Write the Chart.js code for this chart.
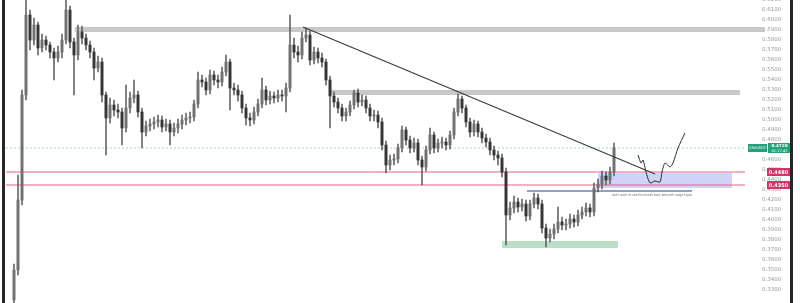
<!DOCTYPE html>
<html>
<head>
<meta charset="utf-8">
<script src="https://cdn.jsdelivr.net/npm/chart.js@4.4.1/dist/chart.umd.min.js"></script>
<style>
  html, body { margin: 0; padding: 0; background: #fff; }
  #wrap { position: relative; width: 800px; height: 303px; }
</style>
</head>
<body>
<div id="wrap"><canvas id="c" width="800" height="303"></canvas></div>
<script>
// ---- price data (one candle per bar index) ----
const firstOpen = 0.320;
const closes = [
  0.350,0.420,0.525,0.605,0.580,0.595,0.572,0.580,0.575,0.568,
  0.562,0.568,0.580,0.610,0.578,0.565,0.588,0.582,0.575,0.568,
  0.552,0.558,0.525,0.502,0.515,0.510,0.508,0.492,0.512,0.522,
  0.525,0.508,0.488,0.494,0.496,0.498,0.500,0.493,0.496,0.488,
  0.492,0.496,0.500,0.502,0.503,0.516,0.540,0.538,0.530,0.545,
  0.540,0.538,0.548,0.558,0.532,0.530,0.525,0.512,0.502,0.500,
  0.508,0.516,0.530,0.520,0.524,0.522,0.525,0.524,0.532,0.575,
  0.568,0.565,0.582,0.585,0.560,0.568,0.562,0.558,0.540,0.524,
  0.518,0.512,0.504,0.508,0.515,0.527,0.518,0.520,0.512,0.504,
  0.505,0.498,0.475,0.455,0.460,0.461,0.472,0.490,0.480,0.472,
  0.477,0.460,0.453,0.470,0.485,0.472,0.477,0.478,0.475,0.485,
  0.508,0.521,0.512,0.498,0.488,0.496,0.488,0.482,0.478,0.470,
  0.465,0.462,0.448,0.405,0.412,0.418,0.413,0.416,0.404,0.416,
  0.422,0.416,0.392,0.382,0.386,0.391,0.398,0.395,0.396,0.401,
  0.398,0.405,0.408,0.412,0.408,0.432,0.436,0.444,0.440,0.448,
  0.472
];
const highs = [
  0.356,0.445,0.530,0.620,0.610,0.602,0.598,0.586,0.584,0.578,
  0.572,0.574,0.586,0.625,0.614,0.582,0.595,0.594,0.586,0.579,
  0.572,0.564,0.562,0.528,0.522,0.520,0.516,0.512,0.535,0.528,
  0.540,0.529,0.512,0.499,0.501,0.503,0.505,0.504,0.501,0.500,
  0.497,0.501,0.505,0.507,0.508,0.520,0.548,0.545,0.542,0.550,
  0.549,0.545,0.553,0.565,0.561,0.537,0.535,0.529,0.516,0.507,
  0.513,0.521,0.542,0.534,0.529,0.528,0.530,0.530,0.537,0.605,
  0.582,0.574,0.588,0.592,0.589,0.573,0.572,0.567,0.561,0.544,
  0.528,0.522,0.516,0.512,0.519,0.530,0.531,0.525,0.524,0.516,
  0.510,0.509,0.502,0.479,0.465,0.466,0.476,0.494,0.493,0.484,
  0.482,0.481,0.464,0.474,0.492,0.488,0.481,0.483,0.482,0.489,
  0.512,0.526,0.524,0.515,0.502,0.500,0.499,0.492,0.486,0.482,
  0.474,0.469,0.466,0.452,0.418,0.424,0.422,0.421,0.420,0.420,
  0.427,0.426,0.420,0.396,0.391,0.396,0.413,0.403,0.401,0.406,
  0.405,0.410,0.413,0.417,0.416,0.437,0.441,0.449,0.448,0.453,
  0.477
];
const lows = [
  0.317,0.345,0.415,0.520,0.570,0.575,0.565,0.568,0.570,0.562,
  0.540,0.558,0.562,0.576,0.572,0.525,0.560,0.576,0.570,0.562,
  0.540,0.548,0.518,0.465,0.497,0.504,0.502,0.475,0.488,0.507,
  0.517,0.503,0.472,0.484,0.489,0.491,0.493,0.488,0.489,0.475,
  0.484,0.487,0.491,0.495,0.497,0.499,0.512,0.533,0.525,0.526,
  0.535,0.532,0.534,0.544,0.510,0.525,0.519,0.507,0.495,0.494,
  0.496,0.504,0.512,0.515,0.516,0.517,0.518,0.519,0.508,0.528,
  0.562,0.558,0.561,0.578,0.555,0.556,0.557,0.553,0.535,0.492,
  0.513,0.507,0.499,0.499,0.504,0.511,0.513,0.514,0.507,0.499,
  0.499,0.492,0.470,0.447,0.450,0.455,0.457,0.468,0.475,0.467,
  0.468,0.455,0.435,0.449,0.466,0.467,0.468,0.472,0.470,0.471,
  0.481,0.504,0.507,0.493,0.483,0.484,0.483,0.477,0.473,0.465,
  0.460,0.455,0.443,0.375,0.400,0.407,0.408,0.409,0.399,0.400,
  0.412,0.411,0.387,0.373,0.378,0.381,0.387,0.390,0.390,0.392,
  0.393,0.394,0.401,0.404,0.403,0.404,0.428,0.431,0.435,0.436,
  0.444
];

// ---- drawn levels and zones: [fromBar, toBar, lowPrice, highPrice] ----
const greyBands = [
  [15.25, 187.75, 0.588, 0.593],
  [79.0, 181.5, 0.525, 0.530]
];
const demandZone = [146.0, 179.5, 0.432, 0.447];
const rangeLowZone = [122.0, 151.0, 0.372, 0.379];
const rangeHigh = [128.25, 169.5, 0.429];
const pinkLevels = [0.448, 0.435];
const lastPrice = 0.472;
const trendLine = [{x: 72.25, y: 0.593}, {x: 160.25, y: 0.446}];
const projection = [
  {x:156.0,y:0.465},{x:156.75,y:0.457},{x:157.25,y:0.460},{x:158.0,y:0.448},
  {x:159.0,y:0.437},{x:160.25,y:0.439},{x:161.5,y:0.438},{x:162.0,y:0.448},
  {x:162.75,y:0.457},{x:164.0,y:0.453},{x:164.75,y:0.457},{x:166.0,y:0.472},
  {x:167.75,y:0.487}
];
const noteText = "don't want to see this break back beneath range highs";

const X_MIN = -2, X_MAX = 182.75;
const opens = closes.map((c, i) => i === 0 ? firstOpen : closes[i - 1]);
const bodies = closes.map((c, i) => ({x: i, y: [opens[i], c]}));
const wicks = closes.map((c, i) => ({x: i, y: [lows[i], highs[i]]}));
const bodyColors = closes.map((c, i) => c >= opens[i] ? '#707070' : '#353535');

const fmt = v => v.toFixed(4);
const hLine = (p, color, dash) => ({
  type: 'line', data: [{x: X_MIN, y: p}, {x: X_MAX, y: p}],
  borderColor: color, borderWidth: 1, borderDash: dash || [],
  pointRadius: 0, fill: false, order: 3
});

const overlay = {
  id: 'overlay',
  beforeDatasetsDraw(chart) {
    const {ctx, scales: {x, y}} = chart;
    const rect = (b, color) => {
      const x0 = x.getPixelForValue(b[0]), x1 = x.getPixelForValue(b[1]);
      const y0 = y.getPixelForValue(b[3]), y1 = y.getPixelForValue(b[2]);
      ctx.fillStyle = color;
      ctx.fillRect(x0, y0, x1 - x0, y1 - y0);
    };
    ctx.save();
    greyBands.forEach(b => rect(b, '#c8c8c8'));
    rect(demandZone, 'rgba(150,158,240,0.45)');
    rect(rangeLowZone, '#b9dfc8');
    // range high line and note
    const rx0 = x.getPixelForValue(rangeHigh[0]), rx1 = x.getPixelForValue(rangeHigh[1]);
    const ry = y.getPixelForValue(rangeHigh[2]);
    ctx.strokeStyle = '#6a80b8';
    ctx.lineWidth = 1.3;
    ctx.beginPath(); ctx.moveTo(rx0, ry); ctx.lineTo(rx1, ry); ctx.stroke();
    ctx.fillStyle = '#6d7280';
    ctx.font = '3.6px "DejaVu Sans"';
    ctx.textBaseline = 'middle';
    ctx.fillText(noteText, x.getPixelForValue(149.5), ry + 4, 80);
    ctx.restore();
  },
  afterDraw(chart) {
    const {ctx, scales: {y}} = chart;
    ctx.save();
    // price tags on the axis
    const tag = (p, x0, w, color, text) => {
      const yy = y.getPixelForValue(p);
      ctx.fillStyle = color;
      ctx.fillRect(x0, yy - 4, w, 8);
      ctx.fillStyle = '#fff';
      ctx.font = 'bold 5px "DejaVu Sans"';
      ctx.textBaseline = 'middle';
      ctx.textAlign = 'center';
      ctx.fillText(text, x0 + w / 2, yy + 0.5);
    };
    pinkLevels.forEach(p => tag(p, 767, 23, '#d6336c', fmt(p)));
    // last price tag with symbol
    const ly = y.getPixelForValue(lastPrice);
    ctx.fillStyle = '#26a07a';
    ctx.fillRect(748, ly - 4, 19, 8);
    ctx.fillRect(768, ly - 5, 23, 10);
    ctx.fillStyle = '#fff';
    ctx.textAlign = 'center';
    ctx.textBaseline = 'middle';
    ctx.font = '3.6px "DejaVu Sans"';
    ctx.fillText('CRVUSDT', 757.5, ly + 0.5, 17);
    ctx.font = 'bold 4.2px "DejaVu Sans"';
    ctx.fillText(fmt(lastPrice), 779.5, ly - 2);
    ctx.font = '3.6px "DejaVu Sans"';
    ctx.fillText('01:17:42', 779.5, ly + 2.6);
    // frame edges
    ctx.fillStyle = '#262626';
    ctx.fillRect(2, 0, 3, 303);
    ctx.fillRect(790, 0, 3, 303);
    ctx.restore();
  }
};

new Chart(document.getElementById('c'), {
  type: 'bar',
  data: {
    datasets: [
      {
        type: 'line', data: trendLine, borderColor: '#3a3a3a', borderWidth: 1.1,
        pointRadius: 0, fill: false, order: 0
      },
      {
        type: 'line', data: projection, borderColor: '#2a2a2a', borderWidth: 1,
        pointRadius: 0, fill: false, tension: 0.25, order: 0
      },
      {
        data: bodies, backgroundColor: bodyColors, borderWidth: 0,
        barThickness: 2.3, grouped: false, minBarLength: 1, order: 1
      },
      {
        data: wicks, backgroundColor: '#5e5e5e', borderWidth: 0,
        barThickness: 0.9, grouped: false, order: 2
      },
      hLine(pinkLevels[0], '#e0608c'),
      hLine(pinkLevels[1], '#e0608c'),
      hLine(lastPrice, '#9fd6c4', [2, 2])
    ]
  },
  options: {
    responsive: false,
    animation: false,
    events: [],
    layout: {padding: {left: 6, right: 0, top: 0, bottom: 0}},
    plugins: {legend: {display: false}, tooltip: {enabled: false}},
    scales: {
      x: {type: 'linear', min: X_MIN, max: X_MAX, offset: false, display: false},
      y: {
        position: 'right', min: 0.317, max: 0.620,
        grid: {display: false, drawTicks: false},
        border: {display: false},
        ticks: {
          stepSize: 0.01, padding: 17, color: '#999999',
          font: {size: 5.5, family: 'DejaVu Sans'},
          autoSkip: false,
          callback: v => fmt(v)
        },
        afterBuildTicks: s => {
          s.ticks = s.ticks.filter(t => Math.abs(t.value * 100 - Math.round(t.value * 100)) < 1e-6);
        },
        afterFit: s => { s.width = 55; s.paddingTop = 0; s.paddingBottom = 0; }
      }
    }
  },
  plugins: [overlay]
});
</script>
</body>
</html>
